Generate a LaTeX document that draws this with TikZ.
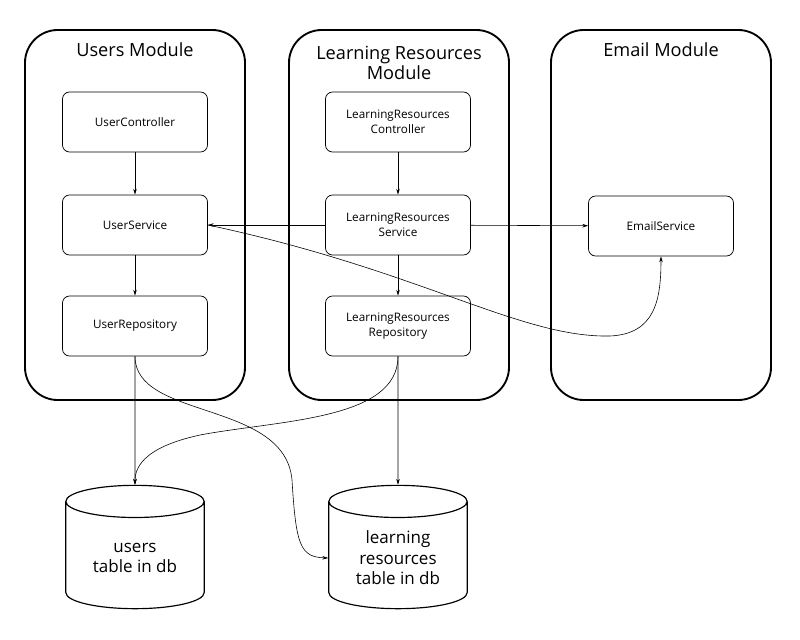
\documentclass[tikz,border=0pt]{standalone}
\usepackage{fontspec}
\setmainfont{Open Sans}
\usetikzlibrary{shapes.geometric,arrows.meta}
\begin{document}
\begin{tikzpicture}[x=0.03cm, y=-0.03cm,
    module/.style={draw, line width=1.6pt, rounded corners=28pt, minimum width=6.6cm, minimum height=11.1cm},
    title/.style={font=\fontsize{15.5}{17}\selectfont, align=center},
    comp/.style={draw, line width=0.6pt, rounded corners=6pt, minimum width=4.35cm, minimum height=1.8cm, align=center, font=\fontsize{10}{13}\selectfont},
    db/.style={draw, line width=1pt, cylinder, shape border rotate=90, aspect=0.35, minimum width=4.15cm, minimum height=3.7cm, align=center, font=\fontsize{14.5}{17.5}\selectfont},
    link/.style={line width=0.5pt, -{Stealth[length=5pt, width=3pt]}}]
        \useasboundingbox (0,0) rectangle (800,640);

        % Modules
        \node[module] (users) at (135,215) {};
        \node[module] (lrmod) at (399,215) {};
        \node[module] (email) at (661,215) {};
        \node[title] (userstitle) at (135,50) {Users Module};
        \node[title] (lrtitle) at (399,63) {Learning Resources\\Module};
        \node[title] (emailtitle) at (661,50) {Email Module};

        % Components
        \node[comp] (uc) at (135,122) {UserController};
        \node[comp] (us) at (135,225) {UserService};
        \node[comp] (ur) at (135,326) {UserRepository};
        \node[comp] (lrc) at (398,122) {LearningResources\\Controller};
        \node[comp] (lrs) at (398,225) {LearningResources\\Service};
        \node[comp] (lrr) at (398,326) {LearningResources\\Repository};
        \node[comp] (es) at (661,226) {EmailService};

        % Tables
        \node[db] (udb) at (135,558) {users\\table in db};
        \node[db] (lrdb) at (398,558) {learning\\resources\\table in db};

        \draw[link] (uc) -- (us);
        \draw[link] (us) -- (ur);
        \draw[link] (lrc) -- (lrs);
        \draw[link] (lrs) -- (lrr);
        \draw[link] (lrs) -- (us);
        \draw[link] (lrs) -- (es);
        \draw[link] (us.east) .. controls (420,270) and (520,338) .. (610,336) .. controls (655,334) and (661,300) .. (es.south);
        \draw[link] (ur) -- (udb.north);
        \draw[link] (lrr) -- (lrdb.north);
        \draw[link] (ur.south) .. controls (135,420) and (285,400) .. (292,480) .. controls (296,545) and (300,557) .. (lrdb.west);
        \draw[link] (lrr.south) .. controls (398,420) and (280,420) .. (200,435) .. controls (140,448) and (135,470) .. (udb.north);
\end{tikzpicture}
\end{document}
